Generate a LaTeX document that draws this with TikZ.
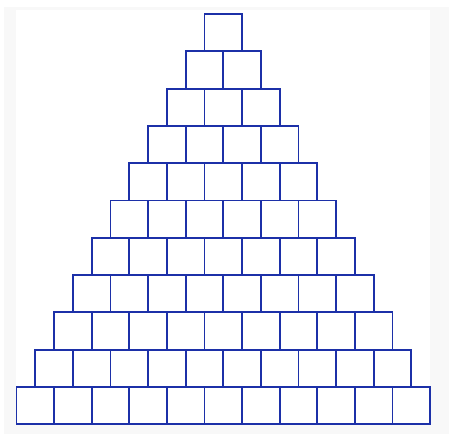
\documentclass[tikz,border=0pt]{standalone}
\definecolor{boxblue}{RGB}{28,48,168}
\definecolor{bggray}{RGB}{248,248,248}
\tikzset{cell/.style={draw=boxblue,line width=1.9pt,minimum width=37.6pt,minimum height=37.3pt,inner sep=0pt,outer sep=0pt}}
\begin{document}
\begin{tikzpicture}[x=1pt,y=-1pt]
\useasboundingbox (0,0) rectangle (449,434);
\fill[bggray] (4,7) rectangle (449,434);
\fill[white] (16,10) rectangle (430,424);
\foreach \r in {0,...,10}{
  \foreach \c in {0,...,\r}{
    \node[cell] (b-\r-\c) at ({223.3-(\r+1)*37.6/2+37.6/2+\c*37.6},{14+37.3/2+\r*37.3}) {};
  }
}
\end{tikzpicture}
\end{document}
